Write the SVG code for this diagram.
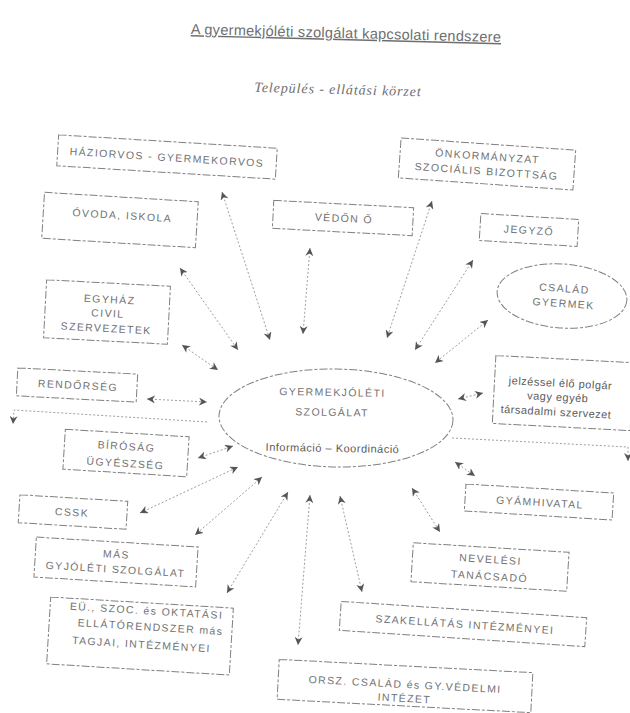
<svg xmlns="http://www.w3.org/2000/svg" width="630" height="713" viewBox="0 0 630 713">
<style>
  .bg{fill:#ffffff}
  .box{fill:none;stroke:#808080;stroke-width:1;stroke-dasharray:8 2 3 2}
  .t{font-family:"Liberation Sans",Arial,sans-serif;font-size:10.5px;letter-spacing:1.4px;fill:#727272;text-anchor:middle}
  .tl{font-family:"Liberation Sans",Arial,sans-serif;font-size:11px;letter-spacing:0.5px;fill:#5a5a5a;text-anchor:middle}
  .title{font-family:"Liberation Sans",Arial,sans-serif;font-size:14.5px;letter-spacing:0.3px;fill:#6e6e6e;text-anchor:middle;text-decoration:underline}
  .sub{font-family:"Liberation Serif","Times New Roman",serif;font-size:14px;font-style:italic;letter-spacing:0.9px;fill:#6e6e6e;text-anchor:middle}
  .c{fill:none;stroke:#9f9f9f;stroke-width:1;stroke-dasharray:2 2}
  .cb{marker-start:url(#ah);marker-end:url(#ah)}
  .ce{marker-end:url(#ah)}
</style>
<defs>
  <marker id="ah" viewBox="0 0 10 10" refX="10" refY="5" markerWidth="8" markerHeight="8" markerUnits="userSpaceOnUse" orient="auto-start-reverse">
    <path d="M0,0 L10,5 L0,10 L3,5 z" fill="#555"/>
  </marker>
</defs>
<rect class="bg" x="0" y="0" width="630" height="713"/>

<g id="title" transform="rotate(1.5 346 34)">
  <text class="title" x="346" y="38">A gyermekjóléti szolgálat kapcsolati rendszere</text>
</g>
<g id="subtitle" transform="rotate(1.5 338 90)">
  <text class="sub" x="338" y="94">Település - ellátási körzet</text>
</g>

<g id="connectors">
  <line class="c cb" x1="222" y1="192" x2="270" y2="340"/>
  <line class="c cb" x1="180" y1="268" x2="238" y2="350"/>
  <line class="c cb" x1="310" y1="248" x2="303" y2="334"/>
  <line class="c cb" x1="432" y1="201" x2="387" y2="338"/>
  <line class="c cb" x1="473" y1="260" x2="415" y2="350"/>
  <line class="c cb" x1="488" y1="320" x2="435" y2="363"/>
  <line class="c cb" x1="182" y1="345" x2="218" y2="370"/>
  <line class="c cb" x1="147" y1="399" x2="207" y2="402"/>
  <polyline class="c ce" points="207,422 14,410 13,424"/>
  <line class="c cb" x1="198" y1="458" x2="233" y2="446"/>
  <line class="c cb" x1="140" y1="513" x2="238" y2="467"/>
  <line class="c cb" x1="262" y1="477" x2="195" y2="535"/>
  <line class="c cb" x1="288" y1="492" x2="227" y2="593"/>
  <line class="c cb" x1="310" y1="495" x2="298" y2="645"/>
  <line class="c cb" x1="340" y1="496" x2="362" y2="592"/>
  <line class="c cb" x1="412" y1="488" x2="440" y2="532"/>
  <line class="c cb" x1="455" y1="462" x2="475" y2="476"/>
  <line class="c cb" x1="458" y1="399" x2="483" y2="393"/>
  <polyline class="c ce" points="452,438 628,447 628,461"/>
</g>

<g id="center" transform="rotate(1 336 418)">
  <ellipse class="box" cx="336" cy="418" rx="117" ry="49"/>
  <text class="t" x="332" y="396">GYERMEKJÓLÉTI</text>
  <text class="t" x="332" y="416">SZOLGÁLAT</text>
  <text class="tl" x="333" y="452">Információ – Koordináció</text>
</g>

<g id="haziorvos" transform="rotate(3.5 167 157)">
  <rect class="box" x="57.5" y="141.5" width="219" height="31"/>
  <text class="t" x="167" y="161">HÁZIORVOS - GYERMEKORVOS</text>
</g>

<g id="ovoda" transform="rotate(3.5 120 220)">
  <rect class="box" x="43" y="197" width="154" height="46"/>
  <text class="t" x="122" y="219">ÓVODA, ISKOLA</text>
</g>

<g id="egyhaz" transform="rotate(3 107 312)">
  <rect class="box" x="45" y="283" width="124" height="58"/>
  <text class="t" x="109" y="303">EGYHÁZ</text>
  <text class="t" x="108" y="317">CIVIL</text>
  <text class="t" x="107" y="332">SZERVEZETEK</text>
</g>

<g id="vedono" transform="rotate(3 343 218)">
  <rect class="box" x="273" y="204" width="140" height="28"/>
  <text class="t" x="344" y="222">VÉDŐN Ő</text>
</g>

<g id="onkormanyzat" transform="rotate(4 487 164)">
  <rect class="box" x="399.5" y="144" width="175" height="40"/>
  <text class="t" x="487" y="160">ÖNKORMÁNYZAT</text>
  <text class="t" x="487" y="175">SZOCIÁLIS BIZOTTSÁG</text>
</g>

<g id="jegyzo" transform="rotate(3.5 529 230)">
  <rect class="box" x="480" y="216.5" width="98" height="27"/>
  <text class="t" x="529" y="234">JEGYZŐ</text>
</g>

<g id="csalad" transform="rotate(4 562 296)">
  <ellipse class="box" cx="562" cy="296" rx="65" ry="32"/>
  <text class="t" x="564" y="292">CSALÁD</text>
  <text class="t" x="564" y="307">GYERMEK</text>
</g>

<g id="rendorseg" transform="rotate(3 77 385)">
  <rect class="box" x="17" y="371" width="120" height="28"/>
  <text class="t" x="78" y="389">RENDŐRSÉG</text>
</g>

<g id="birosag" transform="rotate(3.5 126 453)">
  <rect class="box" x="64" y="433" width="124" height="40"/>
  <text class="t" x="126" y="450">BÍRÓSÁG</text>
  <text class="t" x="126" y="467">ÜGYÉSZSÉG</text>
</g>

<g id="cssk" transform="rotate(3.5 73 512)">
  <rect class="box" x="19" y="498" width="108" height="28"/>
  <text class="t" x="72" y="516">CSSK</text>
</g>

<g id="mas" transform="rotate(3.5 116 562)">
  <rect class="box" x="35" y="542" width="162" height="40"/>
  <text class="t" x="116" y="558">MÁS</text>
  <text class="t" x="116" y="573">GYJÓLÉTI SZOLGÁLAT</text>
</g>

<g id="eu" transform="rotate(3.5 140 636)">
  <rect class="box" x="48.5" y="602.5" width="183" height="67"/>
  <text class="t" x="145" y="614">EÜ., SZOC. és OKTATÁSI</text>
  <text class="t" x="150" y="630">ELLÁTÓRENDSZER más</text>
  <text class="t" x="142" y="648">TAGJAI, INTÉZMÉNYEI</text>
</g>

<g id="jelzessel" transform="rotate(3 562 393)">
  <rect class="box" x="494" y="359" width="138" height="68"/>
  <text class="tl" x="560" y="387">jelzéssel élő polgár</text>
  <text class="tl" x="558" y="401">vagy egyéb</text>
  <text class="tl" x="557" y="416">társadalmi szervezet</text>
</g>

<g id="gyamhivatal" transform="rotate(3.5 539 502)">
  <rect class="box" x="465" y="488.5" width="148" height="27"/>
  <text class="t" x="540" y="506">GYÁMHIVATAL</text>
</g>

<g id="nevelesi" transform="rotate(3.5 490 567)">
  <rect class="box" x="412" y="547.5" width="156" height="39"/>
  <text class="t" x="490" y="563">NEVELÉSI</text>
  <text class="t" x="490" y="580">TANÁCSADÓ</text>
</g>

<g id="szakellatas" transform="rotate(3.8 463 624)">
  <rect class="box" x="340" y="609.5" width="246" height="29"/>
  <text class="t" x="465" y="628">SZAKELLÁTÁS INTÉZMÉNYEI</text>
</g>

<g id="orsz" transform="rotate(3 405 686)">
  <rect class="box" x="278" y="666" width="254" height="40"/>
  <text class="t" x="405" y="688">ORSZ. CSALÁD és GY.VÉDELMI</text>
  <text class="t" x="405" y="702">INTÉZET</text>
</g>
</svg>
